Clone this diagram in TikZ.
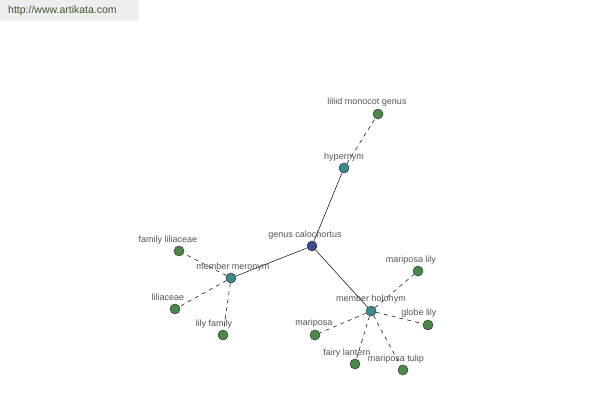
\documentclass[tikz,border=0pt]{standalone}
\usepackage{fontspec}
\setmainfont{Liberation Sans}
\definecolor{hubc}{HTML}{3D4A94}
\definecolor{relc}{HTML}{3A8C8E}
\definecolor{leafc}{HTML}{4A8A48}
\definecolor{labc}{HTML}{555555}
\definecolor{hdrbg}{HTML}{EEEEEE}
\definecolor{hdrtx}{HTML}{3E5530}
\begin{document}
\begin{tikzpicture}[x=1pt,y=-1pt,
  dot/.style={circle,draw=black!80,line width=0.5pt,minimum size=10pt,inner sep=0pt},
  hub/.style={dot,fill=hubc},
  rel/.style={dot,fill=relc},
  leaf/.style={dot,fill=leafc},
  lab/.style={font=\fontsize{9}{10}\selectfont,text=labc,inner sep=0pt},
  solidedge/.style={draw=black,line width=0.5pt},
  dashedge/.style={draw=black,line width=0.5pt,dash pattern=on 4pt off 4pt}]
\useasboundingbox (0,0) rectangle (600,400);
\fill[white] (0,0) rectangle (600,400);
\node[fill=hdrbg,minimum width=139pt,minimum height=21pt,anchor=north west,inner sep=0pt] (hdr) at (0,0) {};
\node[font=\fontsize{10.5}{11}\selectfont,text=hdrtx,anchor=west,inner sep=0pt] (url) at (8,11) {http://www.artikata.com};
% nodes
\node[hub] (g) at (312,246) {};
\node[rel] (hyp) at (344,168) {};
\node[leaf] (lmg) at (378,114) {};
\node[rel] (mer) at (231,278) {};
\node[leaf] (fl) at (179,251) {};
\node[leaf] (lil) at (175,309) {};
\node[leaf] (lf) at (223,335) {};
\node[rel] (hol) at (371,311) {};
\node[leaf] (ml) at (418,271) {};
\node[leaf] (gl) at (428,325) {};
\node[leaf] (mp) at (315,335) {};
\node[leaf] (fla) at (355,364) {};
\node[leaf] (mt) at (403,370) {};
% edges
\draw[solidedge] (g) -- (hyp);
\draw[solidedge] (g) -- (mer);
\draw[solidedge] (g) -- (hol);
\draw[dashedge] (hyp) -- (lmg);
\draw[dashedge] (mer) -- (fl);
\draw[dashedge] (mer) -- (lil);
\draw[dashedge] (mer) -- (lf);
\draw[dashedge] (hol) -- (ml);
\draw[dashedge] (hol) -- (gl);
\draw[dashedge] (hol) -- (mp);
\draw[dashedge] (hol) -- (fla);
\draw[dashedge] (hol) -- (mt);
% labels
\node[lab] (tg) at (305,235) {genus calochortus};
\node[lab] (thyp) at (344,157) {hypernym};
\node[lab] (tlmg) at (367,102) {liliid monocot genus};
\node[lab] (tmer) at (233,267) {member meronym};
\node[lab] (tfl) at (168,240) {family liliaceae};
\node[lab] (tlil) at (168,297) {liliaceae};
\node[lab] (tlf) at (214,324) {lily family};
\node[lab] (thol) at (371,299) {member holonym};
\node[lab] (tml) at (411,260) {mariposa lily};
\node[lab] (tgl) at (419,313) {globe lily};
\node[lab] (tmp) at (314,323) {mariposa};
\node[lab] (tfla) at (347,353) {fairy lantern};
\node[lab] (tmt) at (396,359) {mariposa tulip};
\end{tikzpicture}
\end{document}
